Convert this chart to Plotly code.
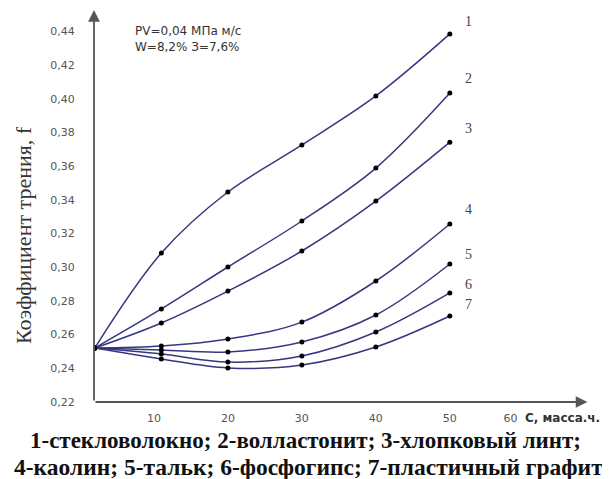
import plotly.graph_objects as go

# ---- data ----
x_points = [2, 11, 20, 30, 40, 50]
start_f = 0.252
curve_names = ["1", "2", "3", "4", "5", "6", "7"]
curve1 = [start_f, 0.3084, 0.3446, 0.3725, 0.4016, 0.4384]
curve2 = [start_f, 0.2752, 0.3001, 0.3274, 0.3588, 0.4033]
curve3 = [start_f, 0.2669, 0.2858, 0.3096, 0.3392, 0.3742]
curve4 = [start_f, 0.2532, 0.2574, 0.2674, 0.2918, 0.3256]
curve5 = [start_f, 0.2508, 0.2497, 0.2556, 0.2716, 0.3019]
curve6 = [start_f, 0.2485, 0.2437, 0.2473, 0.2615, 0.2847]
curve7 = [start_f, 0.2455, 0.2402, 0.2419, 0.2526, 0.2710]
curves = [curve1, curve2, curve3, curve4, curve5, curve6, curve7]
label_x = 51.8
label_y = [0.4455, 0.4117, 0.3820, 0.3340, 0.3078, 0.2900, 0.2776]

y_ticks = [0.22, 0.24, 0.26, 0.28, 0.30, 0.32, 0.34, 0.36, 0.38, 0.40, 0.42, 0.44]
x_tick_pos = [10, 20, 30, 40, 50, 58.2]
x_tick_text = ["10", "20", "30", "40", "50", "60"]

x_min, x_max = 1.9, 70.3
y_min, y_max = 0.22, 0.4526
x_arrow_end = 68.6

# layout geometry (page body has an 8px margin, so the figure is 8px smaller)
W, H = 602, 471
ML, MR, MT, MB = 86, 10, 2, 77
PW, PH = W - ML - MR, H - MT - MB


def px(xr):
    """reference pixel x -> paper x"""
    return (xr - 8 - ML) / PW


def py(yr):
    """reference pixel y -> paper y"""
    return (H - MB - (yr - 8)) / PH


fig = go.Figure()
for name, ys in zip(curve_names, curves):
    fig.add_trace(go.Scatter(
        x=x_points, y=ys, mode="lines+markers", name=name,
        line=dict(color="#37377f", width=1.5, shape="spline", smoothing=1.0),
        marker=dict(color="black", size=5),
        showlegend=False, hoverinfo="skip",
    ))

annotations = []
for name, ly in zip(curve_names, label_y):
    annotations.append(dict(x=label_x, y=ly, text=name, showarrow=False,
                            xanchor="left", yanchor="middle",
                            font=dict(family="Liberation Serif", size=14, color="#444")))
# axis arrows
annotations.append(dict(x=x_arrow_end, y=y_min, ax=x_min, ay=y_min, axref="x", ayref="y",
                        xref="x", yref="y", showarrow=True, arrowhead=2, arrowsize=1.3,
                        arrowwidth=1.8, arrowcolor="#555", text=""))
annotations.append(dict(x=x_min, y=y_max, ax=x_min, ay=y_min, axref="x", ayref="y",
                        xref="x", yref="y", showarrow=True, arrowhead=2, arrowsize=1.3,
                        arrowwidth=1.8, arrowcolor="#555", text=""))
# info text
annotations.append(dict(xref="paper", yref="paper", x=px(133), y=py(22),
                        text="PV=0,04 МПа м/с<br>W=8,2% З=7,6%", showarrow=False,
                        align="left", xanchor="left", yanchor="top",
                        font=dict(family="DejaVu Sans", size=12, color="#333")))
# y title
annotations.append(dict(xref="paper", yref="paper", x=px(23), y=py(235),
                        text="Коэффициент трения, f", textangle=-90, showarrow=False,
                        xanchor="center", yanchor="middle",
                        font=dict(family="Liberation Serif", size=22, color="#333")))
# x title
annotations.append(dict(xref="paper", yref="paper", x=px(523), y=py(418),
                        text="С, масса.ч.", showarrow=False, xanchor="left", yanchor="middle",
                        font=dict(family="DejaVu Sans", size=12, color="#333", weight="bold")))
# caption
annotations.append(dict(xref="paper", yref="paper", x=px(28), y=py(440),
                        text="<b>1-стекловолокно; 2-волластонит; 3-хлопковый линт;</b>",
                        showarrow=False, xanchor="left", yanchor="middle",
                        font=dict(family="Liberation Serif", size=23, color="#111")))
annotations.append(dict(xref="paper", yref="paper", x=px(12), y=py(467),
                        text="<b>4-каолин; 5-тальк; 6-фосфогипс; 7-пластичный графит</b>",
                        showarrow=False, xanchor="left", yanchor="middle",
                        font=dict(family="Liberation Serif", size=23.5, color="#111")))

fig.update_layout(
    width=W, height=H,
    margin=dict(l=ML, r=MR, t=MT, b=MB),
    plot_bgcolor="white", paper_bgcolor="white",
    separators=", ",
    annotations=annotations,
)
fig.update_xaxes(range=[x_min, x_max], tickvals=x_tick_pos, ticktext=x_tick_text,
                 showgrid=False, zeroline=False, showline=False,
                 ticks="outside", ticklen=6, tickcolor="rgba(0,0,0,0)",
                 tickfont=dict(family="DejaVu Sans", size=11, color="#555"))
fig.update_yaxes(range=[y_min, y_max], tickvals=y_ticks, tickformat=".2f",
                 showgrid=False, zeroline=False, showline=False,
                 ticks="outside", ticklen=16, tickcolor="rgba(0,0,0,0)",
                 tickfont=dict(family="DejaVu Sans", size=11, color="#555"))

fig.write_html("out.html")
